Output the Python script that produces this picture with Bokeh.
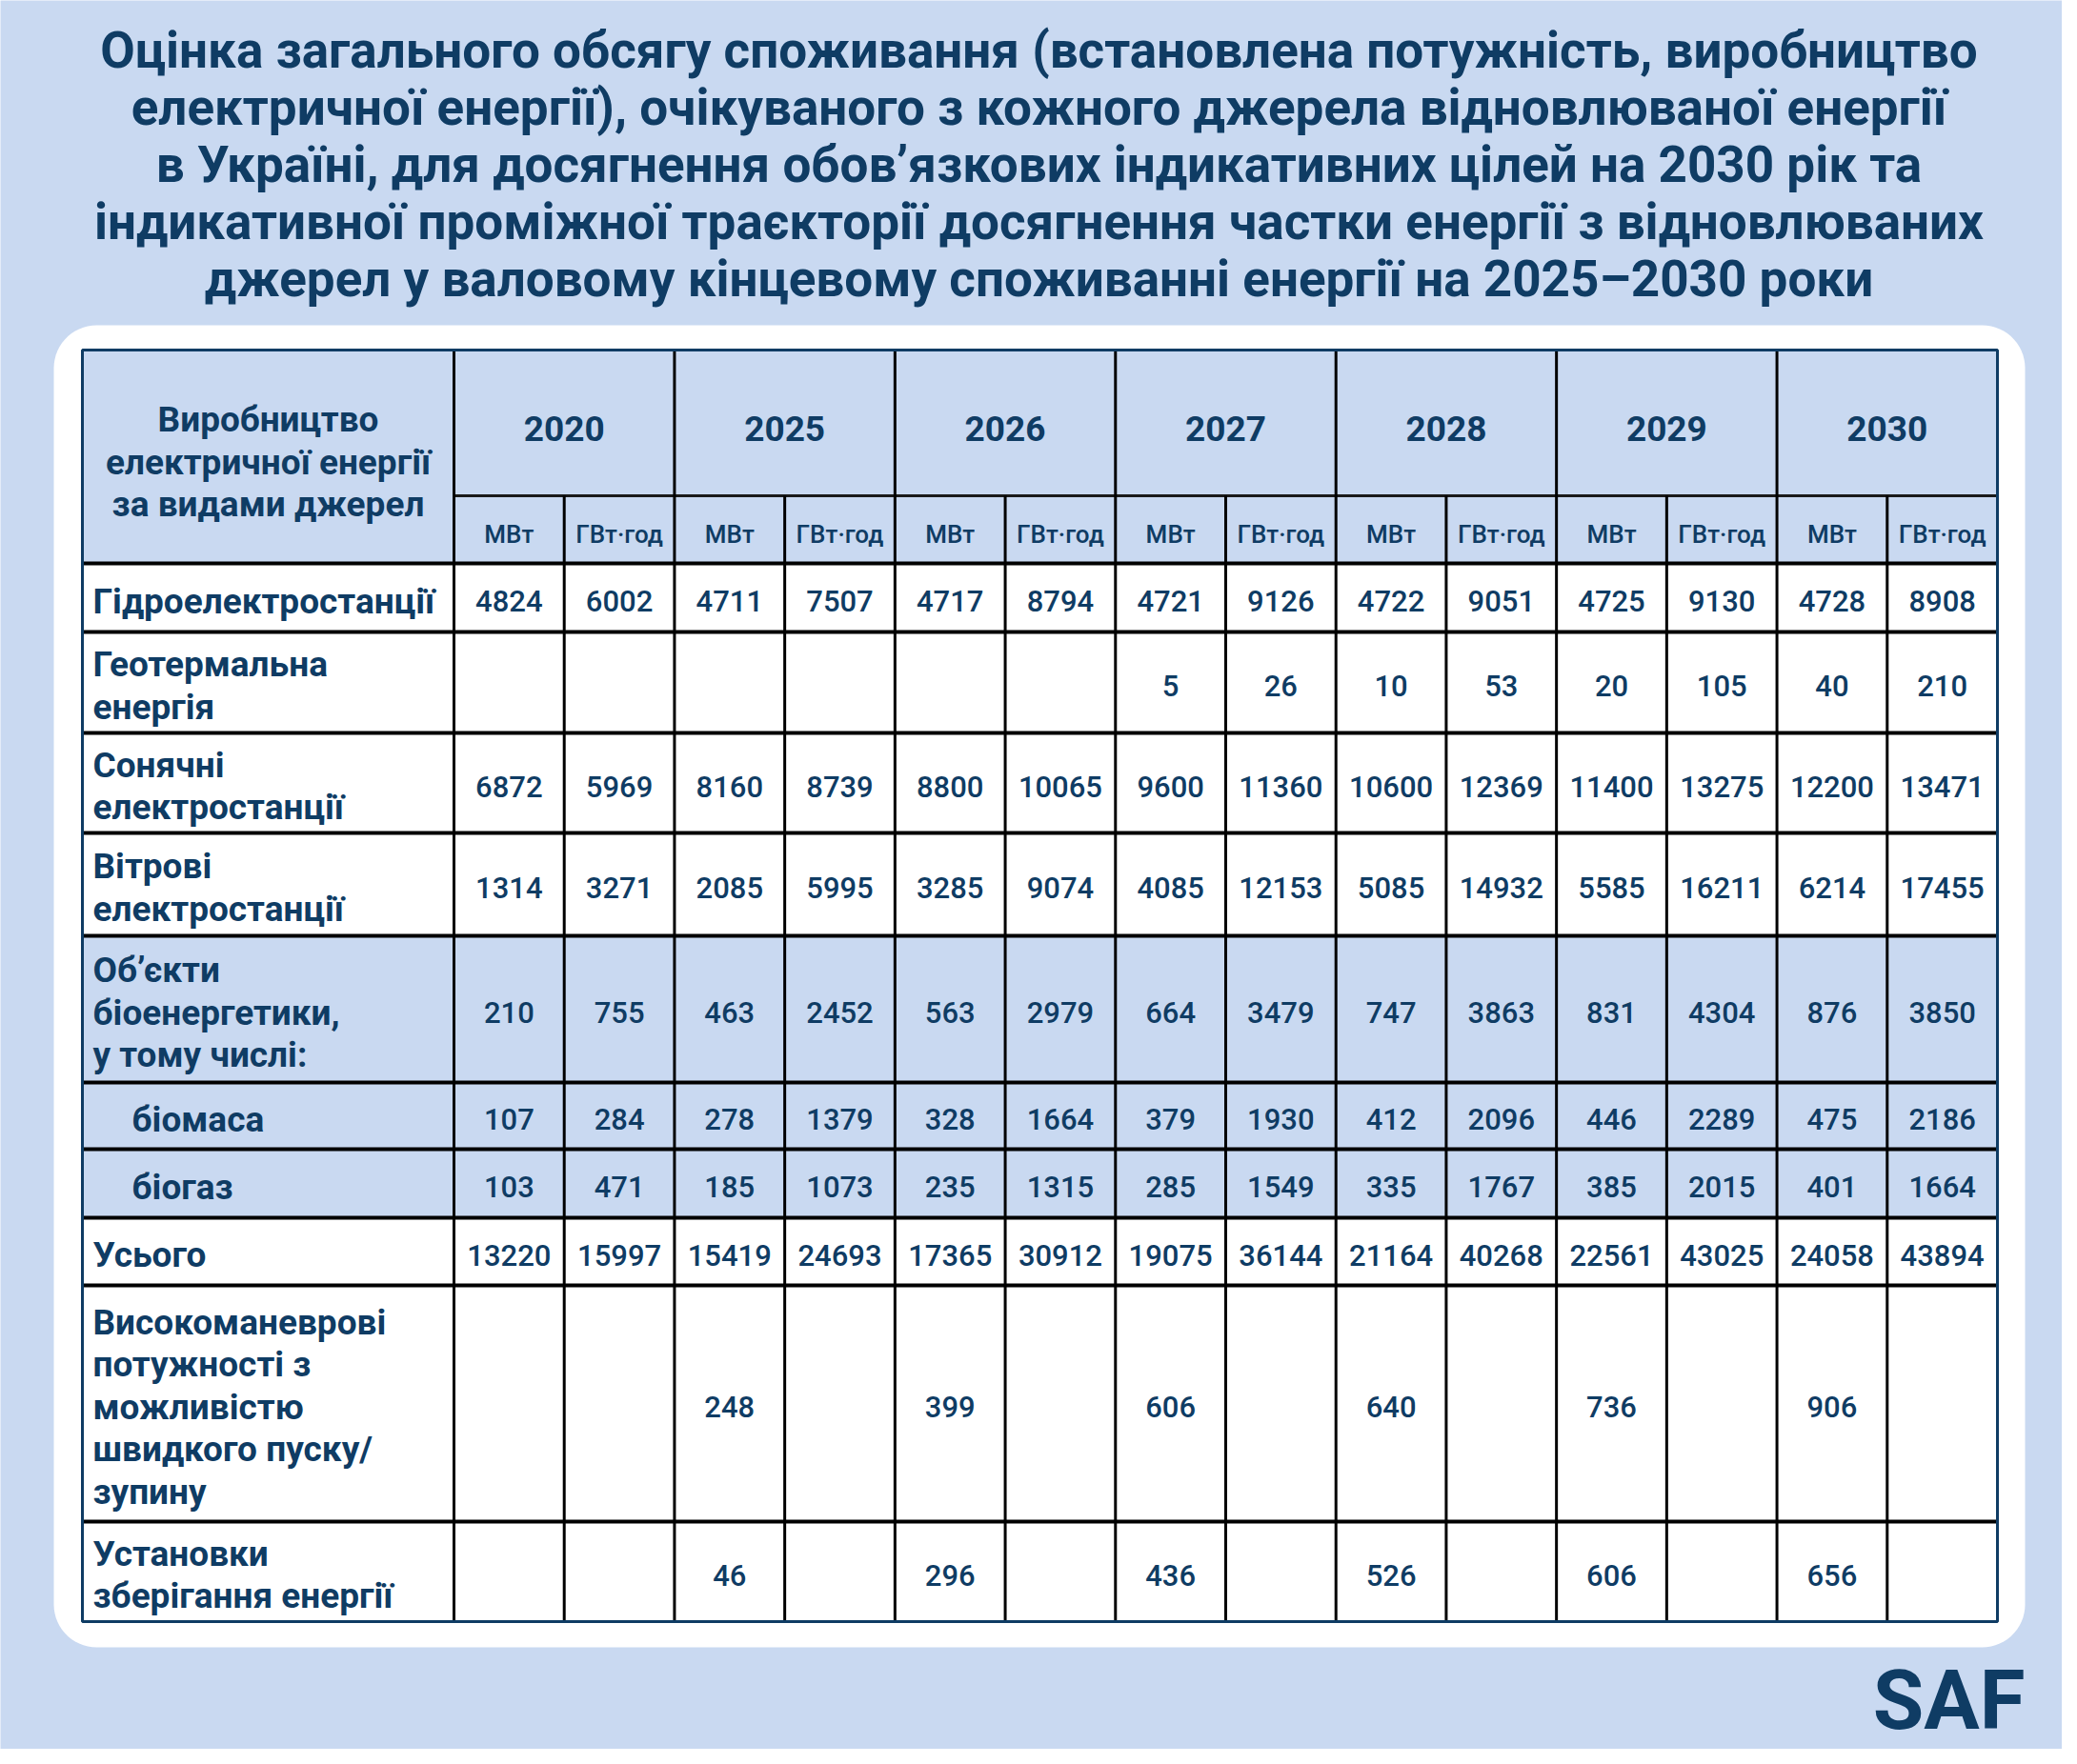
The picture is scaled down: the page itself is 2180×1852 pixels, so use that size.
import numpy as np
from bokeh.plotting import figure
from bokeh.models import Range1d
from bokeh.core.properties import value
from bokeh.embed import file_html
from bokeh.resources import INLINE

# ---------------- data ----------------
title_lines = [
    "Оцінка загального обсягу споживання (встановлена потужність, виробництво",
    "електричної енергії), очікуваного з кожного джерела відновлюваної енергії",
    "в Україні, для досягнення обов’язкових індикативних цілей на 2030 рік та",
    "індикативної проміжної траєкторії досягнення частки енергії з відновлюваних",
    "джерел у валовому кінцевому споживанні енергії на 2025–2030 роки",
]
header_label = ["Виробництво", "електричної енергії", "за видами джерел"]
years = ["2020", "2025", "2026", "2027", "2028", "2029", "2030"]
units = ["МВт", "ГВт·год"]

row_labels = [
    ["Гідроелектростанції"],
    ["Геотермальна", "енергія"],
    ["Сонячні", "електростанції"],
    ["Вітрові", "електростанції"],
    ["Об’єкти", "біоенергетики,", "у тому числі:"],
    ["біомаса"],
    ["біогаз"],
    ["Усього"],
    ["Високоманеврові", "потужності з", "можливістю", "швидкого пуску/", "зупину"],
    ["Установки", "зберігання енергії"],
]
row_indent = [0, 0, 0, 0, 0, 1, 1, 0, 0, 0]
row_shaded = [0, 0, 0, 0, 1, 1, 1, 0, 0, 0]

hydro_mw = [4824, 4711, 4717, 4721, 4722, 4725, 4728]
hydro_gwh = [6002, 7507, 8794, 9126, 9051, 9130, 8908]
geo_mw = [None, None, None, 5, 10, 20, 40]
geo_gwh = [None, None, None, 26, 53, 105, 210]
solar_mw = [6872, 8160, 8800, 9600, 10600, 11400, 12200]
solar_gwh = [5969, 8739, 10065, 11360, 12369, 13275, 13471]
wind_mw = [1314, 2085, 3285, 4085, 5085, 5585, 6214]
wind_gwh = [3271, 5995, 9074, 12153, 14932, 16211, 17455]
bio_mw = [210, 463, 563, 664, 747, 831, 876]
bio_gwh = [755, 2452, 2979, 3479, 3863, 4304, 3850]
biomass_mw = [107, 278, 328, 379, 412, 446, 475]
biomass_gwh = [284, 1379, 1664, 1930, 2096, 2289, 2186]
biogas_mw = [103, 185, 235, 285, 335, 385, 401]
biogas_gwh = [471, 1073, 1315, 1549, 1767, 2015, 1664]
total_mw = [13220, 15419, 17365, 19075, 21164, 22561, 24058]
total_gwh = [15997, 24693, 30912, 36144, 40268, 43025, 43894]
flex_mw = [None, 248, 399, 606, 640, 736, 906]
flex_gwh = [None] * 7
storage_mw = [None, 46, 296, 436, 526, 606, 656]
storage_gwh = [None] * 7

series = [
    (hydro_mw, hydro_gwh), (geo_mw, geo_gwh), (solar_mw, solar_gwh),
    (wind_mw, wind_gwh), (bio_mw, bio_gwh), (biomass_mw, biomass_gwh),
    (biogas_mw, biogas_gwh), (total_mw, total_gwh), (flex_mw, flex_gwh),
    (storage_mw, storage_gwh),
]

# ---------------- layout / style ----------------
BG = "#C9D9F1"
NAVY = "#0F3C64"
FW, FH = 2164, 1836

p = figure(width=FW, height=FH, output_backend="svg",
           toolbar_location=None, min_border=0,
           x_range=Range1d(0, FW), y_range=Range1d(FH, 0))
p.axis.visible = False
p.grid.visible = False
p.outline_line_color = None
p.background_fill_color = BG
p.border_fill_color = BG

# title (y = visual centre of capitals)
p.text(x=[1090] * len(title_lines), y=[52 + i * 60 for i in range(len(title_lines))],
       text=title_lines, text_align="center", text_baseline="middle",
       text_font=value("Roboto"), text_font_style="bold", text_font_size="53px",
       text_color=NAVY)

# white rounded panel
PL, PR, PT, PB, PRAD = 56, 2125, 341, 1729, 45
pts = []
for cx, cy, a0 in [(PR - PRAD, PT + PRAD, -90), (PR - PRAD, PB - PRAD, 0),
                   (PL + PRAD, PB - PRAD, 90), (PL + PRAD, PT + PRAD, 180)]:
    ang = np.radians(np.linspace(a0, a0 + 90, 16))
    pts += [(cx + PRAD * np.cos(a), cy + PRAD * np.sin(a)) for a in ang]
p.patch([q[0] for q in pts], [q[1] for q in pts], fill_color="white", line_color=None)

# table geometry
TL, TR, TT = 86, 2096, 367
C0 = 476
ncols = len(years) * 2
cw = (TR - C0) / ncols
year_h, unit_h = 153, 71
row_h = [72, 106, 105, 108, 154, 70, 72, 71, 248, 105]
y_year_bot = TT + year_h
y_head_bot = y_year_bot + unit_h
row_tops = [y_head_bot]
for h in row_h:
    row_tops.append(row_tops[-1] + h)
TB = row_tops[-1]

# fills
p.quad(left=[TL], right=[TR], top=[TT], bottom=[y_head_bot], fill_color=BG, line_color=None)
for i, s in enumerate(row_shaded):
    p.quad(left=[TL], right=[TR], top=[row_tops[i]], bottom=[row_tops[i + 1]],
           fill_color=BG if s else "white", line_color=None)

# grid lines
p.segment(x0=[C0], y0=[y_year_bot], x1=[TR], y1=[y_year_bot], line_color="#1a1a1a", line_width=3)
p.segment(x0=[TL] * (len(row_tops) - 1), y0=row_tops[:-1], x1=[TR] * (len(row_tops) - 1),
          y1=row_tops[:-1], line_color="black", line_width=4)
vx_major = [C0 + 2 * j * cw for j in range(len(years))]
p.segment(x0=vx_major, y0=[TT] * len(vx_major), x1=vx_major, y1=[TB] * len(vx_major),
          line_color="black", line_width=3)
vx_minor = [C0 + (2 * j + 1) * cw for j in range(len(years))]
p.segment(x0=vx_minor, y0=[y_year_bot] * len(vx_minor), x1=vx_minor, y1=[TB] * len(vx_minor),
          line_color="black", line_width=3)
p.quad(left=[TL], right=[TR], top=[TT], bottom=[TB], fill_color=None,
       line_color=NAVY, line_width=3)

# header texts
p.text(x=[(TL + C0) / 2] * 3, y=[440, 485, 529], text=header_label,
       text_align="center", text_baseline="middle", text_font=value("Roboto"),
       text_font_style="bold", text_font_size="37px", text_color=NAVY)
p.text(x=[C0 + (2 * j + 1) * cw for j in range(len(years))], y=[449] * len(years), text=years,
       text_align="center", text_baseline="middle", text_font=value("Roboto"),
       text_font_style="bold", text_font_size="37px", text_color=NAVY)
ux = [C0 + (k + 0.5) * cw for k in range(ncols)]
p.text(x=ux, y=[560] * ncols, text=[units[k % 2] for k in range(ncols)],
       text_align="center", text_baseline="middle", text_font=value("Roboto Medium"),
       text_font_size="26px", text_color=NAVY)

# row labels
lx, ly, lt = [], [], []
LS = 44.5
for i, lines in enumerate(row_labels):
    c = (row_tops[i] + row_tops[i + 1]) / 2 + 3.5
    n = len(lines)
    for k, t in enumerate(lines):
        lx.append(138 if row_indent[i] else 97)
        ly.append(c + (k - (n - 1) / 2) * LS)
        lt.append(t)
p.text(x=lx, y=ly, text=lt, text_align="left", text_baseline="middle",
       text_font=value("Roboto"), text_font_style="bold", text_font_size="37px",
       text_color=NAVY)

# values
vx, vy, vt = [], [], []
for i, (a, b) in enumerate(series):
    c = (row_tops[i] + row_tops[i + 1]) / 2 + 3.5
    for j in range(len(years)):
        for k, arr in enumerate((a, b)):
            if arr[j] is not None:
                vx.append(C0 + (2 * j + k + 0.5) * cw)
                vy.append(c)
                vt.append(str(arr[j]))
p.text(x=vx, y=vy, text=vt, text_align="center", text_baseline="middle",
       text_font=value("Roboto Medium"), text_font_size="31px", text_color=NAVY)

# logo
p.text(x=[2125], y=[1784], text=["SAF"], text_align="right", text_baseline="middle",
       text_font=value("Roboto"), text_font_style="bold", text_font_size="87px",
       text_color=NAVY)

open("out.html", "w").write(file_html(p, INLINE))
